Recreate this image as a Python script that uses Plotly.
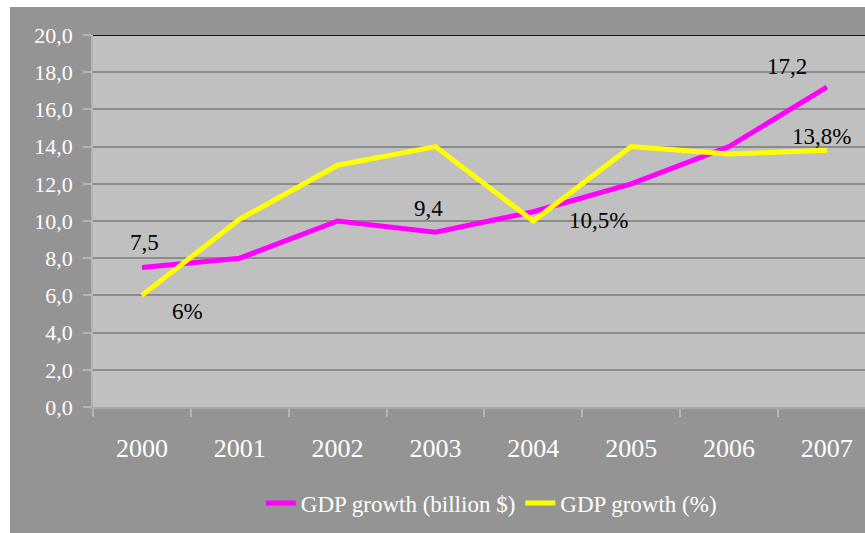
import plotly.graph_objects as go

years = ["2000", "2001", "2002", "2003", "2004", "2005", "2006", "2007"]
gdp_billion = [7.5, 8.0, 10.0, 9.4, 10.5, 12.0, 14.0, 17.2]
gdp_pct = [6.0, 10.1, 13.0, 14.0, 10.0, 14.0, 13.6, 13.8]
y_ticks = [0, 2, 4, 6, 8, 10, 12, 14, 16, 18, 20]

# label: (series, index, text, xshift, yshift)
labels = [
    ("b", 0, "7,5", 3, 25),
    ("p", 0, "6%", 46, -16),
    ("b", 3, "9,4", -7, 24),
    ("p", 4, "10,5%", 65, 1),
    ("b", 7, "17,2", -40, 21),
    ("p", 7, "13,8%", -5, 14),
]

FONT = "Liberation Serif, Times New Roman, serif"
BG = "#949494"

fig = go.Figure()
fig.add_trace(go.Scatter(x=years, y=gdp_billion, mode="lines", name="GDP growth (billion $)",
                         line=dict(color="#ff00ff", width=5)))
fig.add_trace(go.Scatter(x=years, y=gdp_pct, mode="lines", name="GDP growth (%)",
                         line=dict(color="#ffff00", width=5)))

for s, i, t, dx, dy in labels:
    yv = gdp_billion[i] if s == "b" else gdp_pct[i]
    fig.add_annotation(x=i, y=yv, xref="x", yref="y", text=t, showarrow=False,
                       xshift=dx, yshift=dy,
                       font=dict(family=FONT, size=23, color="black"))

# top border line
fig.add_shape(type="line", xref="paper", yref="y", x0=0, x1=1, y0=20, y1=20,
              line=dict(color="#1a1a1a", width=2))
# white strips at top and left edges
fig.add_shape(type="rect", xref="paper", yref="paper", x0=-0.2, x1=1.1, y0=1.0753, y1=1.2,
              fillcolor="white", line=dict(width=0), layer="below")
fig.add_shape(type="rect", xref="paper", yref="paper", x0=-0.2, x1=-0.1075, y0=-0.5, y1=1.2,
              fillcolor="white", line=dict(width=0), layer="below")

fig.update_layout(
    width=865, height=533,
    margin=dict(l=93, r=0, t=35, b=126),
    paper_bgcolor=BG, plot_bgcolor="#c0c0c0",
    separators=", ",
    showlegend=True,
    legend=dict(orientation="h", x=0.516, xanchor="center", y=-0.258, yanchor="middle",
                font=dict(family=FONT, size=23, color="white"), bgcolor="rgba(0,0,0,0)"),
    font=dict(family=FONT, color="white"),
)
fig.update_xaxes(type="category", range=[-0.5, 7.39], showgrid=False,
                 ticks="outside", tickson="boundaries", ticklen=8, tickcolor="#b4b4b4", tickwidth=1.5,
                 showline=True, linecolor="#a8a8a8", linewidth=1.5,
                 tickfont=dict(family=FONT, size=26, color="white"), ticklabelstandoff=17)
fig.update_yaxes(range=[0, 20], tickvals=y_ticks, tickformat=".1f",
                 showgrid=True, gridcolor="#8c8c8c", gridwidth=1.5, zeroline=False,
                 ticks="outside", ticklen=8, tickcolor="#b4b4b4", tickwidth=1.5,
                 showline=True, linecolor="#b4b4b4", linewidth=1.5,
                 tickfont=dict(family=FONT, size=22, color="white"), ticklabelstandoff=6)

fig.write_html("out.html", config={"displayModeBar": False},
               post_script="document.body.style.margin='0';")
